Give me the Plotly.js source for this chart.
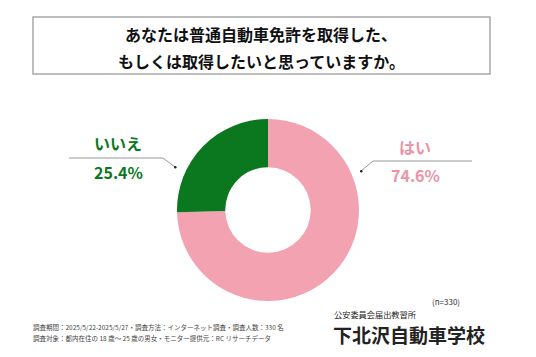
<!DOCTYPE html>
<html><head><meta charset="utf-8">
<script src="https://cdn.plot.ly/plotly-3.0.1.min.js"></script>
<style>html,body{margin:0;padding:0;background:#fff}#c{width:536px;height:357px}</style>
</head><body><div id="c"></div>
<script>
const labels = ['はい', 'いいえ'];
const values = [74.6, 25.4];
const colors = ['#F2A2B1', '#0B781F'];
const textColors = ['#EC93A8', '#0B781F'];
const titleLines = ['あなたは普通自動車免許を取得した、', 'もしくは取得したいと思っていますか。'];
const sampleNote = '(n=330)';
const footnotes = ['調査期間：2025/5/22-2025/5/27・調査方法：インターネット調査・調査人数：330 名',
                   '調査対象：都内在住の 18 歳～ 25 歳の男女・モニター提供元：RC リサーチデータ'];
const brandSub = '公安委員会届出教習所';
const brandName = '下北沢自動車学校';

const W = 536, H = 357;
const px = x => x / W, py = y => 1 - y / H;
const F = '"Noto Sans CJK JP", "Noto Sans", sans-serif';

const cx = 268, cy = 210, r = 91;
const trace = {
  type: 'pie', labels: labels, values: values, hole: 0.47, sort: false,
  direction: 'clockwise', rotation: 0, textinfo: 'none', hoverinfo: 'none',
  marker: {colors: colors, line: {width: 0}},
  domain: {x: [px(cx - r), px(cx + r)], y: [py(cy + r), py(cy - r)]},
  showlegend: false
};

function txt(x, y, text, size, color, xanchor) {
  return {x: px(x), y: py(y), xref: 'paper', yref: 'paper', text: text, showarrow: false,
    xanchor: xanchor || 'center', yanchor: 'middle', font: {family: F, size: size, color: color}};
}

const labelPos = [
  {x: 415, yl: 147, yv: 175},
  {x: 118, yl: 143, yv: 172}
];
const ann = [];
labels.forEach((l, i) => {
  ann.push(txt(labelPos[i].x, labelPos[i].yl, '<b>' + l + '</b>', 16, textColors[i]));
  ann.push(txt(labelPos[i].x, labelPos[i].yv, '<b>' + values[i].toFixed(1) + '%</b>', 16, textColors[i]));
});
ann.push(txt(261, 34, '<b>' + titleLines[0] + '</b>', 16, '#111'));
ann.push(txt(261, 61, '<b>' + titleLines[1] + '</b>', 16, '#111'));
ann.push(txt(462, 301, sampleNote, 8, '#333', 'right'));
footnotes.forEach((t, i) => ann.push(txt(31, 327 + i * 10.5, t, 6.5, '#444', 'left')));
ann.push(txt(332, 314, brandSub, 8.2, '#222', 'left'));
ann.push(txt(331, 334.5, '<b>' + brandName + '</b>', 19, '#222', 'left'));

const shapes = [
  {type: 'rect', xref: 'paper', yref: 'paper', x0: px(33), x1: px(490), y0: py(17), y1: py(74), line: {color: '#A8A8A8', width: 1.5}, fillcolor: 'rgba(0,0,0,0)'},
  {type: 'path', xref: 'paper', yref: 'paper', path: `M ${px(69)} ${py(158)} L ${px(163)} ${py(158)} L ${px(175)} ${py(167)}`, line: {color: '#999', width: 1}},
  {type: 'path', xref: 'paper', yref: 'paper', path: `M ${px(472)} ${py(161)} L ${px(373)} ${py(161)} L ${px(361)} ${py(171)}`, line: {color: '#999', width: 1}},
  {type: 'circle', xref: 'paper', yref: 'paper', x0: px(174), x1: px(176.5), y0: py(166), y1: py(168.5), fillcolor: '#222', line: {width: 0}},
  {type: 'circle', xref: 'paper', yref: 'paper', x0: px(360), x1: px(362.5), y0: py(170), y1: py(172.5), fillcolor: '#222', line: {width: 0}}
];

Plotly.newPlot('c', [trace], {
  width: W, height: H, margin: {l: 0, r: 0, t: 0, b: 0},
  paper_bgcolor: '#fff', plot_bgcolor: '#fff',
  annotations: ann, shapes: shapes, showlegend: false
}, {staticPlot: true});
</script></body></html>
